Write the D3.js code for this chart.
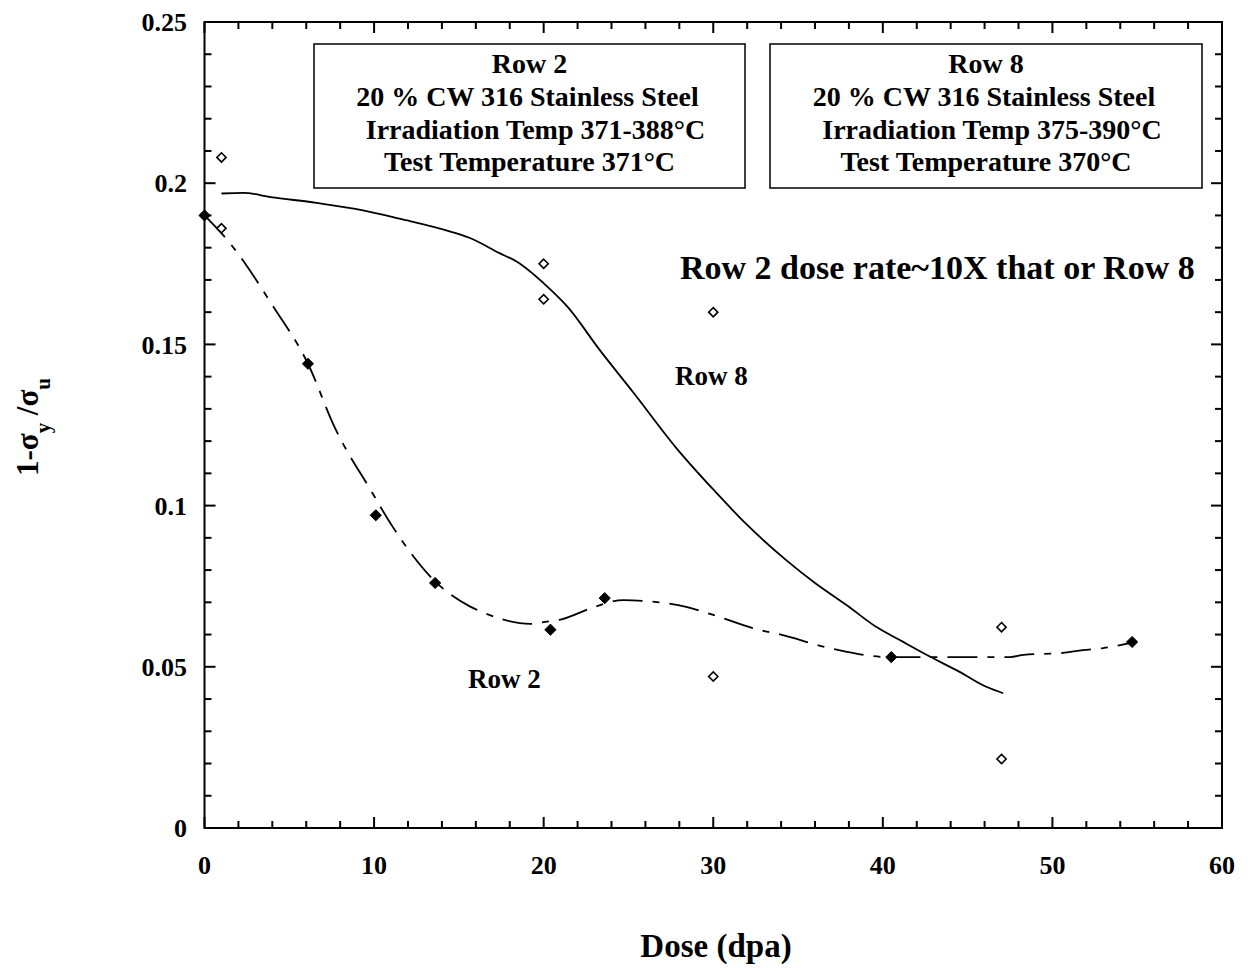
<!DOCTYPE html>
<html><head><meta charset="utf-8">
<script src="https://cdn.jsdelivr.net/npm/d3@7"></script>
<style>
body{margin:0;background:#fff;}
svg text{font-family:"Liberation Serif","Times New Roman",serif;font-weight:bold;fill:#000;}
</style></head><body>
<svg id="chart" width="1248" height="971"></svg>
<script>
// ---- data ----
const row2PointsDose = [0, 6.1, 10.1, 13.6, 20.4, 23.6, 40.5, 54.7];
const row2PointsVal  = [0.190, 0.144, 0.097, 0.076, 0.0615, 0.0713, 0.053, 0.0577];
const row8PointsDose = [1, 1, 20, 20, 30, 30, 47, 47];
const row8PointsVal  = [0.208, 0.186, 0.175, 0.164, 0.160, 0.047, 0.0623, 0.0214];
const row8CurveDose = [1, 2.3, 3.9, 6.6, 9.35, 11.5, 14.5, 15.65, 17.4, 18.4, 20.2, 21.4, 23.3, 25.3, 27.8, 30, 32, 34.3, 36, 37.9, 39.6, 41, 42.8, 44.5, 46.1, 47.1];
const row8CurveVal  = [0.1968, 0.197, 0.1957, 0.1939, 0.1916, 0.189, 0.185, 0.183, 0.1783, 0.1757, 0.168, 0.1617, 0.1483, 0.135, 0.118, 0.105, 0.094, 0.0831, 0.076, 0.069, 0.0624, 0.0583, 0.0531, 0.0485, 0.0438, 0.0418];
const row2CurveDose = [0, 1.5, 4, 6.1, 7.7, 9.8, 11.1, 13.5, 15.7, 16.5, 17.5, 19.2, 20.2, 21.1, 22.8, 24.7, 26.4, 28.4, 30, 32.75, 33.8, 37.1, 40.4, 42.8, 47.5, 48.3, 50.6, 51.8, 53, 54.7];
const row2CurveVal  = [0.190, 0.1814, 0.1622, 0.144, 0.124, 0.1048, 0.0934, 0.077, 0.0686, 0.0667, 0.0648, 0.0633, 0.064, 0.0648, 0.0682, 0.0707, 0.0702, 0.0686, 0.0661, 0.0614, 0.0602, 0.0555, 0.053, 0.053, 0.053, 0.0537, 0.0543, 0.0552, 0.0558, 0.0575];
const xTickValues = [0, 10, 20, 30, 40, 50, 60];
const yTickValues = [0, 0.05, 0.1, 0.15, 0.2, 0.25];
const yTickLabels = ["0", "0.05", "0.1", "0.15", "0.2", "0.25"];
const box1Lines = ["Row 2", "20 % CW 316 Stainless Steel", "Irradiation Temp 371-388°C", "Test Temperature 371°C"];
const box2Lines = ["Row 8", "20 % CW 316 Stainless Steel", "Irradiation Temp 375-390°C", "Test Temperature 370°C"];

// ---- layout ----
const L = 204.5, R = 1222, T = 22, B = 828;
const svg = d3.select("#chart");
const x = d3.scaleLinear().domain([0, 60]).range([L, R]);
const y = d3.scaleLinear().domain([0, 0.25]).range([B, T]);

// frame
svg.append("rect").attr("x", L).attr("y", T).attr("width", R - L).attr("height", B - T)
  .attr("fill", "none").attr("stroke", "#000").attr("stroke-width", 2);

// ticks (inward, all four sides)
const xMinor = d3.range(0, 60.001, 2);
const yMinor = d3.range(0, 0.2501, 0.01);
const isMajX = v => Math.abs(v / 10 - Math.round(v / 10)) < 1e-6;
const isMajY = v => Math.abs(v / 0.05 - Math.round(v / 0.05)) < 1e-6;
const tk = svg.append("g").attr("stroke", "#000").attr("stroke-width", 2);
xMinor.forEach(v => {
  const len = isMajX(v) ? 11 : 7;
  tk.append("line").attr("x1", x(v)).attr("x2", x(v)).attr("y1", B).attr("y2", B - len);
  tk.append("line").attr("x1", x(v)).attr("x2", x(v)).attr("y1", T).attr("y2", T + len);
});
yMinor.forEach(v => {
  const len = isMajY(v) ? 11 : 7;
  tk.append("line").attr("y1", y(v)).attr("y2", y(v)).attr("x1", L).attr("x2", L + len);
  tk.append("line").attr("y1", y(v)).attr("y2", y(v)).attr("x1", R).attr("x2", R - len);
});

// tick labels
svg.append("g").selectAll("text").data(xTickValues).join("text")
  .attr("x", d => x(d)).attr("y", 874).attr("text-anchor", "middle")
  .style("font-size", "26px").text(d => d);
svg.append("g").selectAll("text").data(yTickValues).join("text")
  .attr("x", 187).attr("y", d => y(d)).attr("dy", "0.35em").attr("text-anchor", "end")
  .style("font-size", "26px").text((d, i) => yTickLabels[i]);

// axis titles
svg.append("text").attr("x", 716).attr("y", 957).attr("text-anchor", "middle")
  .style("font-size", "33px").text("Dose (dpa)");
const yt = svg.append("text").attr("transform", "translate(38,427) rotate(-90)")
  .attr("text-anchor", "middle").style("font-size", "31px");
yt.append("tspan").text("1-σ");
yt.append("tspan").attr("dy", 12).style("font-size", "21px").text("y");
yt.append("tspan").attr("dy", -12).text(" /σ");
yt.append("tspan").attr("dy", 12).style("font-size", "21px").text("u");

// curves
const line = d3.line().x(d => x(d[0])).y(d => y(d[1])).curve(d3.curveMonotoneX);
svg.append("path").datum(d3.zip(row8CurveDose, row8CurveVal))
  .attr("d", line).attr("fill", "none").attr("stroke", "#000").attr("stroke-width", 1.8);
svg.append("path").datum(d3.zip(row2CurveDose, row2CurveVal))
  .attr("d", line).attr("fill", "none").attr("stroke", "#000").attr("stroke-width", 1.8)
  .attr("stroke-dasharray", "30,10,7,10");

// markers
const diamond = s => `M0,${-s}L${s},0L0,${s}L${-s},0Z`;
svg.append("g").selectAll("path").data(d3.zip(row8PointsDose, row8PointsVal)).join("path")
  .attr("transform", d => `translate(${x(d[0])},${y(d[1])})`)
  .attr("d", diamond(4.6)).attr("fill", "#fff").attr("stroke", "#000").attr("stroke-width", 1.6);
svg.append("g").selectAll("path").data(d3.zip(row2PointsDose, row2PointsVal)).join("path")
  .attr("transform", d => `translate(${x(d[0])},${y(d[1])})`)
  .attr("d", diamond(5.6)).attr("fill", "#000").attr("stroke", "#000").attr("stroke-width", 1);

// annotation boxes
function box(x0, x1, lines) {
  svg.append("rect").attr("x", x0).attr("y", 44).attr("width", x1 - x0).attr("height", 144)
    .attr("fill", "#fff").attr("stroke", "#000").attr("stroke-width", 1.5);
  const cx = (x0 + x1) / 2;
  const base = [73, 106, 139, 171];
  lines.forEach((t, i) => {
    svg.append("text").attr("x", cx + (i === 2 ? 6 : i === 1 ? -2 : 0)).attr("y", base[i])
      .attr("text-anchor", "middle").style("font-size", "28px").text(t);
  });
}
box(314, 745, box1Lines);
box(770, 1202, box2Lines);

// labels
svg.append("text").attr("x", 680).attr("y", 279).style("font-size", "34px")
  .text("Row 2 dose rate~10X that or Row 8");
svg.append("text").attr("x", 675).attr("y", 385).style("font-size", "27px").text("Row 8");
svg.append("text").attr("x", 468).attr("y", 688).style("font-size", "27px").text("Row 2");
</script></body></html>
